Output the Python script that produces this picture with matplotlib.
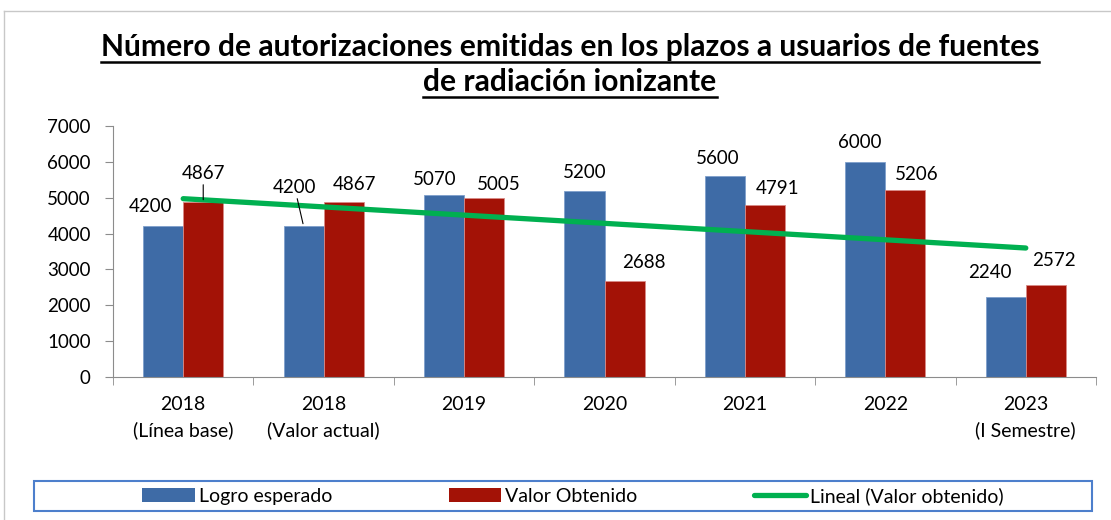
import numpy as np
import matplotlib.pyplot as plt
from matplotlib.patches import Rectangle, Patch
from matplotlib.lines import Line2D

# datos
categorias = ["2018\n(Línea base)", "2018\n(Valor actual)", "2019", "2020",
              "2021", "2022", "2023\n(I Semestre)"]
logro_esperado = [4200, 4200, 5070, 5200, 5600, 6000, 2240]
valor_obtenido = [4867, 4867, 5005, 2688, 4791, 5206, 2572]
yticks = [0, 1000, 2000, 3000, 4000, 5000, 6000, 7000]

titulo = ["Número de autorizaciones emitidas en los plazos a usuarios de fuentes",
          "de radiación ionizante"]
series = ["Logro esperado", "Valor Obtenido", "Lineal (Valor obtenido)"]

AZUL = "#3E6BA6"
ROJO = "#A31206"
VERDE = "#00B050"
GRIS = "#8C8C8C"
FUENTE = "Lato"

# posicion de las etiquetas (px) respecto al tope de cada barra
off_azul = [(-13, 20), (-9, 39), (-9, 16), (0, 18), (-7, 18), (-6, 19), (-16, 24)]
off_rojo = [(0, 29), (11, 18), (15, 13), (19, 18), (13, 17), (11, 16), (8, 24)]
guia_azul = [False, True, False, False, False, False, False]
guia_rojo = [True, False, False, False, False, False, False]

plt.rcParams['font.family'] = [FUENTE, 'DejaVu Sans']

W, H = 1111, 520
fig = plt.figure(figsize=(W / 100, H / 100), dpi=100)
ax = fig.add_axes([113 / W, 1 - 377 / H, 983 / W, 251 / H])

x = np.arange(len(categorias))
ancho = 0.285
b1 = ax.bar(x - ancho / 2, logro_esperado, ancho, color=AZUL, edgecolor="#7E9FCB", linewidth=0.6, zorder=2)
b2 = ax.bar(x + ancho / 2, valor_obtenido, ancho, color=ROJO, edgecolor="#D98B87", linewidth=0.6, zorder=2)

# linea de tendencia (ajuste lineal de Valor obtenido)
m, b = np.polyfit(x + 1, valor_obtenido, 1)
tend = m * (x + 1) + b
ax.plot([x[0], x[-1]], [tend[0], tend[-1]], color=VERDE, lw=3.8, solid_capstyle='round', zorder=3)

fs_num = 13.5
fs = 14
for barras, offs, guias in ((b1, off_azul, guia_azul), (b2, off_rojo, guia_rojo)):
    for r, (dx, dy), g in zip(barras, offs, guias):
        cx = r.get_x() + r.get_width() / 2
        top = r.get_height()
        props = None
        if g:
            props = dict(arrowstyle='-', color='black', lw=0.8, shrinkA=0, shrinkB=2)
        ax.annotate(f"{int(top)}", xy=(cx, top), xytext=(dx, dy), textcoords='offset pixels',
                    ha='center', va='center', fontsize=fs_num, arrowprops=props, zorder=4)

ax.set_xlim(-0.5, len(categorias) - 0.5)
ax.set_ylim(0, 7000)
ax.set_yticks(yticks)
ax.set_xticks(x)
ax.set_xticklabels(categorias, fontsize=fs, linespacing=1.55)
ax.set_xticks(np.arange(len(categorias) + 1) - 0.5, minor=True)
ax.tick_params(axis='x', which='major', length=0, pad=14)
ax.tick_params(axis='x', which='minor', length=6, color=GRIS, direction='out')
ax.tick_params(axis='y', length=6, color=GRIS, pad=10, labelsize=fs_num)
for s in ('top', 'right'):
    ax.spines[s].set_visible(False)
for s in ('left', 'bottom'):
    ax.spines[s].set_color(GRIS)

# titulo subrayado
textos = []
for linea, yy in zip(titulo, (47, 82)):
    t = fig.text(570 / W, 1 - yy / H, linea, ha='center', va='center',
                 fontsize=21.6, fontweight='bold')
    textos.append(t)
fig.canvas.draw()
r = fig.canvas.get_renderer()
for t in textos:
    bb = t.get_window_extent(r)
    fig.add_artist(Line2D([bb.x0 / W, bb.x1 / W], [(bb.y0 - 1) / H] * 2,
                          transform=fig.transFigure, color='black', lw=1.8))

# marco del grafico
fig.add_artist(Line2D([4 / W, 1], [1 - 11 / H] * 2, transform=fig.transFigure, color="#C8C8C8", lw=1))
fig.add_artist(Line2D([4 / W] * 2, [0, 1 - 11 / H], transform=fig.transFigure, color="#C8C8C8", lw=1))

# leyenda
fig.add_artist(Rectangle((34 / W, 1 - 511 / H), 1058 / W, 30 / H, transform=fig.transFigure,
                         fill=False, edgecolor="#4D7FCC", lw=1.5))
manejadores = [Patch(facecolor=AZUL), Patch(facecolor=ROJO),
               Line2D([], [], color=VERDE, lw=3.8, solid_capstyle='round')]
fig.legend(manejadores, series, loc='center', bbox_to_anchor=(573 / W, 1 - 496 / H),
           ncol=3, frameon=False, fontsize=fs, handlelength=2.7, handleheight=0.7,
           handletextpad=0.2, columnspacing=6.0)

fig.savefig("out.png", dpi=100)
